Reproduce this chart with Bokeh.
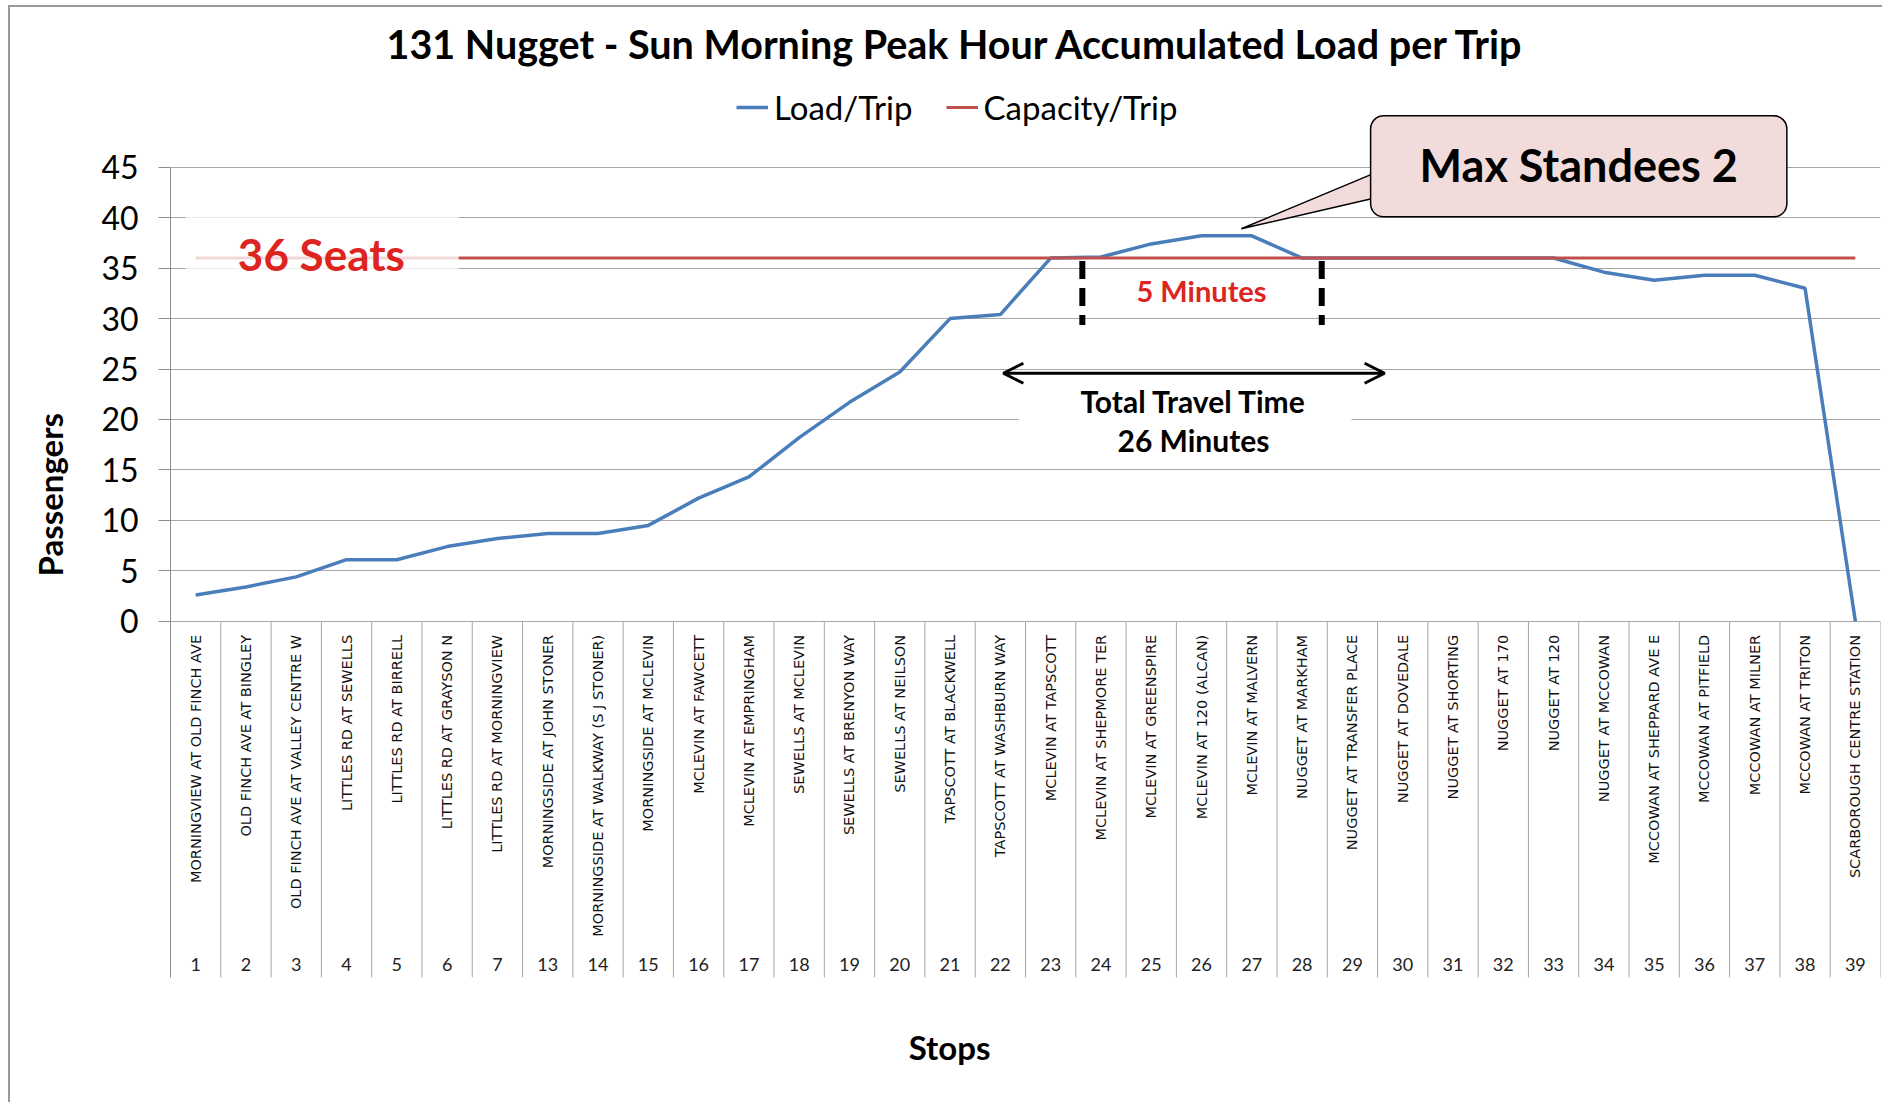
import numpy as np
from bokeh.plotting import figure
from bokeh.models import (Range1d, FixedTicker, ColumnDataSource, Label, Legend,
                          LegendItem, Arrow, OpenHead, Title)
from bokeh.core.properties import value
from bokeh.embed import file_html
from bokeh.resources import INLINE

# ---------------- data ----------------
stop_numbers = ["1", "2", "3", "4", "5", "6", "7", "13", "14", "15", "16", "17",
                "18", "19", "20", "21", "22", "23", "24", "25", "26", "27", "28",
                "29", "30", "31", "32", "33", "34", "35", "36", "37", "38", "39"]
stop_names = [
    "MORNINGVIEW AT OLD FINCH AVE", "OLD FINCH AVE AT BINGLEY",
    "OLD FINCH AVE AT VALLEY CENTRE W", "LITTLES RD AT SEWELLS",
    "LITTLES RD AT BIRRELL", "LITTLES RD AT GRAYSON N",
    "LITTLES RD AT MORNINGVIEW", "MORNINGSIDE AT JOHN STONER",
    "MORNINGSIDE AT WALKWAY (S J STONER)", "MORNINGSIDE AT MCLEVIN",
    "MCLEVIN AT FAWCETT", "MCLEVIN AT EMPRINGHAM", "SEWELLS AT MCLEVIN",
    "SEWELLS AT BRENYON WAY", "SEWELLS AT NEILSON", "TAPSCOTT AT BLACKWELL",
    "TAPSCOTT AT WASHBURN WAY", "MCLEVIN AT TAPSCOTT",
    "MCLEVIN AT SHEPMORE TER", "MCLEVIN AT GREENSPIRE",
    "MCLEVIN AT 120 (ALCAN)", "MCLEVIN AT MALVERN", "NUGGET AT MARKHAM",
    "NUGGET AT TRANSFER PLACE", "NUGGET AT DOVEDALE", "NUGGET AT SHORTING",
    "NUGGET AT 170", "NUGGET AT 120", "NUGGET AT MCCOWAN",
    "MCCOWAN AT SHEPPARD AVE E", "MCCOWAN AT PITFIELD", "MCCOWAN AT MILNER",
    "MCCOWAN AT TRITON", "SCARBOROUGH CENTRE STATION"]
load_per_trip = [2.6, 3.4, 4.4, 6.1, 6.1, 7.4, 8.2, 8.7, 8.7, 9.5, 12.2, 14.3,
                 18.2, 21.7, 24.7, 30.0, 30.4, 36.0, 36.1, 37.4, 38.2, 38.2,
                 36.0, 36.0, 36.0, 36.0, 36.0, 36.0, 34.6, 33.8, 34.3, 34.3,
                 33.0, 0.0]
capacity_per_trip = [36] * 34
y_ticks = [0, 5, 10, 15, 20, 25, 30, 35, 40, 45]

TITLE = "131 Nugget - Sun Morning Peak Hour Accumulated Load per Trip"
BLUE = "#4A7EBB"
RED = "#C0504D"
TXT_RED = "#DD2420"
FONT = "Lato"
GRID = "#A6A6A6"
AXIS = "#8C8C8C"

n = len(stop_numbers)
pos = np.arange(1, n + 1)
Y_MAX = 45          # top of value axis
SEP_BOTTOM = -35.3  # bottom of the category table
Y_LO, Y_HI = -47.7, 53.3   # full frame extent

src = ColumnDataSource(dict(x=pos, load=load_per_trip, cap=capacity_per_trip,
                            name=stop_names, num=stop_numbers))

p = figure(width=1882, height=1102, output_backend="svg", toolbar_location=None,
           x_range=Range1d(0.5, n + 0.5), y_range=Range1d(Y_LO, Y_HI),
           x_axis_location=None, min_border_left=170, min_border_right=2,
           min_border_top=82, min_border_bottom=0)
p.outline_line_color = None
p.background_fill_color = "white"
p.border_fill_alpha = 0
p.styles = {
    "background-color": "white",
    "background-image": "linear-gradient(#9a9a9a, #9a9a9a), linear-gradient(#9a9a9a, #9a9a9a)",
    "background-size": "2px 100%, 100% 2px",
    "background-position": "8px 5px, 8px 5px",
    "background-repeat": "no-repeat",
}

# title
p.title.text = TITLE
p.title.text_font = FONT
p.title.text_font_size = "39.5px"
p.title.text_font_style = "bold"
p.title.text_color = "black"
p.title.align = "left"
p.title.offset = 216
p.title.standoff = 34

# y axis
yax = p.yaxis[0]
yax.ticker = FixedTicker(ticks=y_ticks)
yax.bounds = (SEP_BOTTOM, Y_MAX)
yax.major_label_text_font = FONT
yax.major_label_text_font_size = "32px"
yax.major_label_text_color = "black"
yax.major_label_standoff = 20
yax.major_tick_out = 12
yax.major_tick_in = 0
yax.minor_tick_line_color = None
yax.axis_line_color = AXIS
yax.major_tick_line_color = AXIS

# y axis title
p.add_layout(Title(text="Passengers", text_font=FONT, text_font_size="33px",
                   text_font_style="bold", text_color="black", align="left",
                   offset=526, vertical_align="top", standoff=54), "left")

p.xgrid.visible = False
p.ygrid.ticker = FixedTicker(ticks=y_ticks)
p.ygrid.grid_line_color = GRID
p.ygrid.grid_line_width = 1

# category table separators below the axis
sep_x = pos + 0.5
p.segment(x0=sep_x, y0=0, x1=sep_x, y1=SEP_BOTTOM, line_color=GRID, line_width=1)

# stop names (rotated) and stop numbers
p.text(x="x", y=-1.35, text="name", source=src, angle=np.pi / 2,
       text_align="right", text_baseline="middle",
       text_font=value("DejaVu Sans"), text_font_size="14.5px",
       text_color="#111111")
p.text(x="x", y=-34.0, text="num", source=src, text_align="center",
       text_baseline="middle", text_font=value(FONT), text_font_size="18px",
       text_color="#222222")

# series
r_load = p.line("x", "load", source=src, line_color=BLUE, line_width=3.5)
r_cap = p.line("x", "cap", source=src, line_color=RED, line_width=3)

# translucent box behind "36 Seats"
p.quad(left=0.80, right=6.23, top=40.6, bottom=34.35, fill_color="white",
       fill_alpha=0.78, line_color=None)
# white box behind travel-time text
p.quad(left=17.36, right=23.98, top=23.3, bottom=16.4, fill_color="white",
       fill_alpha=1.0, line_color=None)

# dashed markers for the 5 minute over-capacity window
p.segment(x0=[18.63, 23.39], y0=[35.7, 35.7], x1=[18.63, 23.39],
          y1=[29.37, 29.37], line_color="black", line_width=6,
          line_dash="18 9")

# callout pointer
p.patch(x=[21.79, 24.38, 24.38], y=[38.9, 44.29, 41.87], fill_color="#F2DCDB",
        line_color="black", line_width=1.5)

# double arrow
p.add_layout(Arrow(x_start=17.06, y_start=24.58, x_end=24.64, y_end=24.58,
                   line_width=3, line_color="black",
                   start=OpenHead(size=20, line_width=3, line_color="black"),
                   end=OpenHead(size=20, line_width=3, line_color="black")))

def lab(x, y, text, size, color="black", bold=True, align="center", angle=0.0,
        baseline="middle", **kw):
    p.add_layout(Label(x=x, y=y, text=text, text_font=FONT,
                       text_font_size=size, text_color=color,
                       text_font_style="bold" if bold else "normal",
                       text_align=align, text_baseline=baseline, angle=angle,
                       **kw))

lab(3.5, 36.38, "36 Seats", "44px", TXT_RED)
lab(21.0, 32.74, "5 Minutes", "29px", TXT_RED)
lab(20.84, 21.84, "Total Travel Time", "30px")
lab(20.84, 18.0, "26 Minutes", "30px")
lab(28.5, 45.09, "Max Standees 2", "45px",
    background_fill_color="#F2DCDB", border_line_color="black",
    border_line_width=1.5, padding=(49, 49, 22, 25), border_radius=13)
lab(15.99, -42.24, "Stops", "33px")

# legend
legend = Legend(items=[LegendItem(label="Load/Trip", renderers=[r_load]),
                       LegendItem(label="Capacity/Trip", renderers=[r_cap])],
                orientation="horizontal", location=(566, 975),
                label_text_font=FONT, label_text_font_size="33px",
                label_text_color="black", glyph_width=32, glyph_height=20,
                label_standoff=6, spacing=33, padding=0, margin=0,
                border_line_color=None, background_fill_alpha=0)
p.add_layout(legend)

open("out.html", "w").write(file_html(p, INLINE))
